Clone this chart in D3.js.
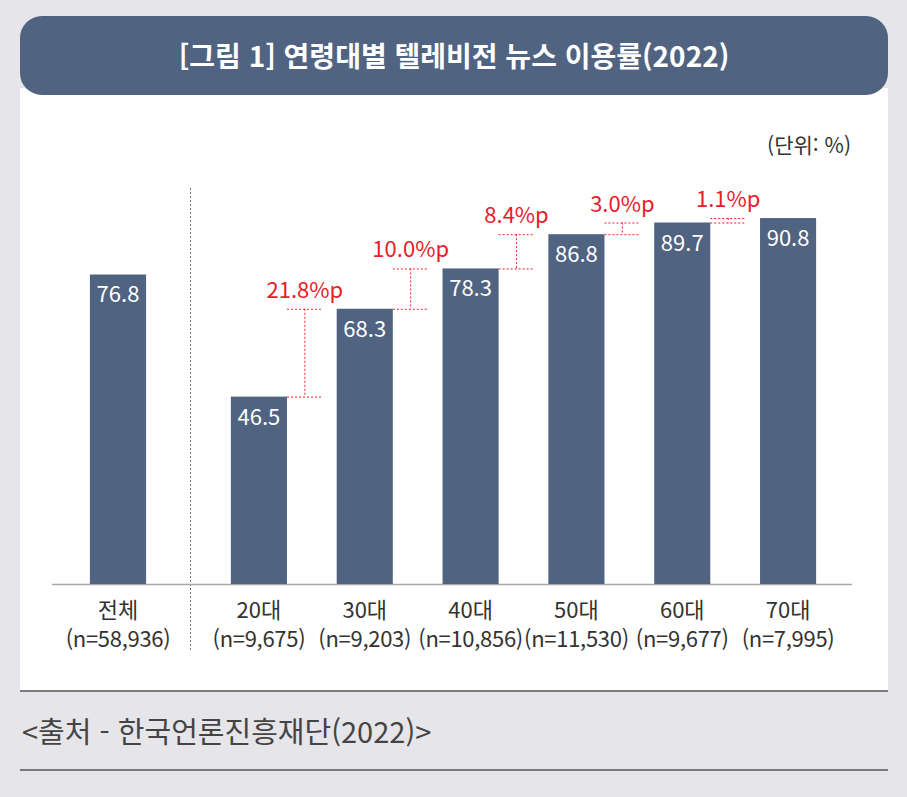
<!DOCTYPE html>
<html lang="ko">
<head>
<meta charset="utf-8">
<title>연령대별 텔레비전 뉴스 이용률(2022)</title>
<script src="https://cdn.jsdelivr.net/npm/d3@7"></script>
<style>
	html, body { margin: 0; padding: 0; background: #e6e5ea; }
	svg { display: block; font-family: "Noto Sans CJK KR", "Noto Sans", sans-serif; }
</style>
</head>
<body>
<main></main>
<script>

// DATA
// overall bar
const totalCategory = ["전체"];
const totalSample = ["(n=58,936)"];
const totalValue = [76.8];
// age groups
const categories = ["20대", "30대", "40대", "50대", "60대", "70대"];
const samples = ["(n=9,675)", "(n=9,203)", "(n=10,856)", "(n=11,530)", "(n=9,677)", "(n=7,995)"];
const values = [46.5, 68.3, 78.3, 86.8, 89.7, 90.8];
// gap labels between neighbouring age groups
const diffLabels = ["21.8%p", "10.0%p", "8.4%p", "3.0%p", "1.1%p"];

// texts
const titleText = "[그림 1] 연령대별 텔레비전 뉴스 이용률(2022)";
const unitText = "(단위: %)";
const sourceText = "<출처 - 한국언론진흥재단(2022)>";


// CALLBACK: draw the chart
function visualizeData() {
	// dimension
	const w = 907;
	const h = 797;
	const baseY = 584;
	const barColor = "#506381";
	const red = "#e8202a";
	const textColor = "#333333";

	// scales
	const yScale = d3.scaleLinear()
		.domain([0, 100])
		.range([baseY, 181]);
	const xTotal = d3.scaleBand()
		.domain(totalCategory)
		.range([65, 171])
		.paddingInner(0.47)
		.paddingOuter(0.235);
	const xScale = d3.scaleBand()
		.domain(categories)
		.range([206, 841])
		.paddingInner(0.47)
		.paddingOuter(0.235);
	const bw = xScale.bandwidth();

	// svg
	const svg = d3.select("main").append("svg").attr("width", w).attr("height", h);
	svg.append("rect").attr("width", w).attr("height", h).attr("fill", "#e6e5ea");

	// white panel + title box
	svg.append("rect").attr("x", 20).attr("y", 88).attr("width", 868).attr("height", 603).attr("fill", "#ffffff");
	svg.append("rect").attr("x", 20).attr("y", 16).attr("width", 868).attr("height", 79).attr("rx", 22)
		.attr("fill", barColor);
	svg.append("text").attr("x", 454).attr("y", 67).attr("text-anchor", "middle")
		.attr("fill", "#ffffff").attr("font-size", 28).attr("font-weight", 700)
		.text(titleText);

	// unit
	svg.append("text").attr("x", 851).attr("y", 153).attr("text-anchor", "end")
		.attr("fill", textColor).attr("font-size", 21).text(unitText);

	// separator between total and age groups
	svg.append("line").attr("x1", 190.5).attr("x2", 190.5).attr("y1", 188).attr("y2", 652)
		.attr("stroke", "#777").attr("stroke-width", 1).attr("stroke-dasharray", "2,2");

	// x axis (baseline + category labels)
	const xAxis = d3.axisBottom(xScale).tickSize(0).tickPadding(0).tickFormat("");
	const axisG = svg.append("g").attr("transform", "translate(0," + baseY + ")").call(xAxis);
	axisG.select(".domain").remove();
	svg.append("line").attr("x1", 52).attr("x2", 852).attr("y1", baseY + 0.5).attr("y2", baseY + 0.5)
		.attr("stroke", "#a9a9a9").attr("stroke-width", 1.5);

	// label helper
	function catLabels(scale, cats, ns) {
		const g = svg.append("g").selectAll("g").data(cats).enter().append("g")
			.attr("transform", d => "translate(" + (scale(d) + scale.bandwidth() / 2) + ",0)");
		g.append("text").attr("y", 618).attr("text-anchor", "middle")
			.attr("fill", textColor).attr("font-size", 22).text(d => d);
		g.append("text").attr("y", 647).attr("text-anchor", "middle")
			.attr("fill", textColor).attr("font-size", 22).attr("letter-spacing", -0.3).text((d, i) => ns[i]);
	}
	catLabels(xTotal, totalCategory, totalSample);
	catLabels(xScale, categories, samples);

	// bars helper
	function drawBars(scale, cats, vals) {
		const g = svg.append("g");
		g.selectAll("rect").data(vals).enter().append("rect")
			.attr("x", (d, i) => scale(cats[i]))
			.attr("y", d => yScale(d))
			.attr("width", scale.bandwidth())
			.attr("height", d => baseY - yScale(d))
			.attr("fill", barColor);
		g.selectAll("text").data(vals).enter().append("text")
			.attr("x", (d, i) => scale(cats[i]) + scale.bandwidth() / 2)
			.attr("y", d => yScale(d) + 28)
			.attr("text-anchor", "middle")
			.attr("fill", "#ffffff").attr("font-size", 22)
			.text(d => d.toFixed(1));
	}
	drawBars(xTotal, totalCategory, totalValue);
	drawBars(xScale, categories, values);

	// gap annotations (red dotted brackets)
	const gapLen = (xScale.step() - bw) * 0.72;
	const ann = svg.append("g").selectAll("g").data(diffLabels).enter().append("g");
	ann.each(function(d, i) {
		const g = d3.select(this);
		const x1 = xScale(categories[i]) + bw;
		const x2 = x1 + gapLen;
		const xm = (x1 + x2) / 2;
		const yLow = yScale(values[i]);
		const yHigh = yScale(values[i + 1]);
		[yLow, yHigh].forEach(y => {
			g.append("line").attr("x1", x1).attr("x2", x2).attr("y1", y + 0.5).attr("y2", y + 0.5)
				.attr("stroke", red).attr("stroke-width", 1).attr("stroke-dasharray", "2,2");
		});
		g.append("line").attr("x1", xm).attr("x2", xm).attr("y1", yHigh).attr("y2", yLow)
			.attr("stroke", red).attr("stroke-width", 1).attr("stroke-dasharray", "2,2");
		g.append("text").attr("x", xm).attr("y", yHigh - 11).attr("text-anchor", "middle")
			.attr("fill", red).attr("font-size", 22).text(d);
	});

	// footer
	svg.append("line").attr("x1", 20).attr("x2", 888).attr("y1", 691).attr("y2", 691)
		.attr("stroke", "#555").attr("stroke-width", 1.5);
	svg.append("text").attr("x", 22).attr("y", 743)
		.attr("fill", "#444").attr("font-size", 29).text(sourceText);
	svg.append("line").attr("x1", 20).attr("x2", 888).attr("y1", 770).attr("y2", 770)
		.attr("stroke", "#555").attr("stroke-width", 1.5);
}


// MAIN
document.addEventListener('DOMContentLoaded', () => {
	visualizeData();
});
</script>
</body>
</html>
